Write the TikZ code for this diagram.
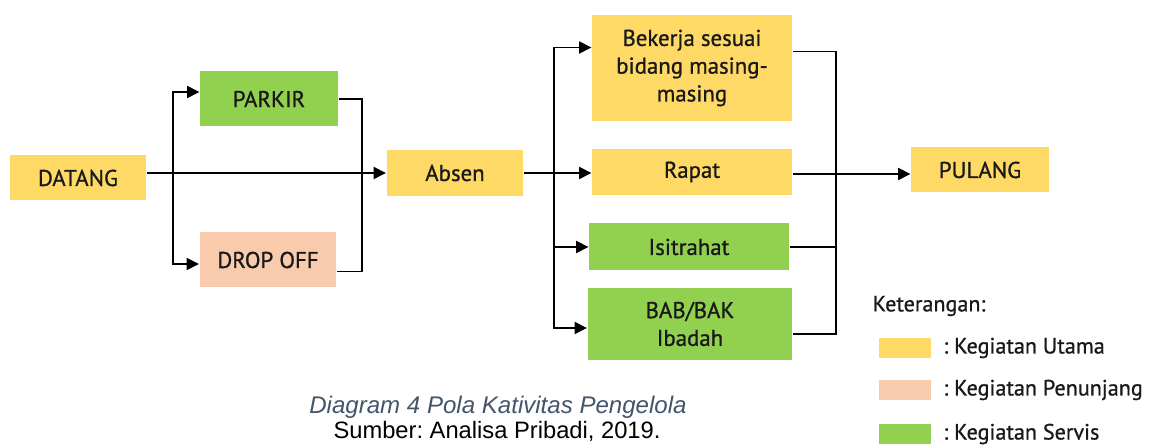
\documentclass[tikz,border=0pt]{standalone}
\usepackage{fontspec}
\setmainfont{PT Sans}
\newfontfamily\boxfont{PT Sans}[FakeBold=0.9]
\newfontfamily\capfont{Liberation Sans}
\usepackage{xcolor}
\usepackage{tikz}
\usetikzlibrary{arrows.meta, positioning}
\frenchspacing

\definecolor{kUtama}{HTML}{FFD966}
\definecolor{kPenunjang}{HTML}{F8CBAD}
\definecolor{kServis}{HTML}{92D050}
\definecolor{capgray}{HTML}{44546A}

\tikzset{
	box/.style={inner sep=0pt, align=center, text=black!90, font=\boxfont\fontsize{13}{15.8}\selectfont},
	utama/.style={box, fill=kUtama},
	penunjang/.style={box, fill=kPenunjang},
	servis/.style={box, fill=kServis},
	arr/.style={-{Triangle[length=7pt,width=7pt]}},
	lgtext/.style={inner sep=0pt, text=black!90, font=\boxfont\fontsize{12.6}{15}\selectfont},
}

\begin{document}
\begin{tikzpicture}[x=0.02cm, y=-0.02cm, line width=0.8pt]
	\useasboundingbox (0,0) rectangle (1154,448);
	% Boxes:
	\node[utama, minimum width=2.74cm, minimum height=0.9cm] (datang) at (78,178) {DATANG};
	\node[servis, minimum width=2.76cm, minimum height=1.1cm] (parkir) at (269,99) {PARKIR};
	\node[penunjang, minimum width=2.74cm, minimum height=1.1cm] (dropoff) at (268,260) {DROP OFF};
	\node[utama, minimum width=2.74cm, minimum height=0.92cm] (absen) at (455,173) {Absen};
	\node[utama, minimum width=4cm, minimum height=2.14cm] (bekerja) at (692,68) {Bekerja sesuai\\bidang masing-\\masing};
	\node[utama, minimum width=4cm, minimum height=0.92cm] (rapat) at (692,172) {Rapat};
	\node[servis, minimum width=4cm, minimum height=0.94cm] (isitrahat) at (689,247) {Isitrahat};
	\node[servis, minimum width=4.1cm, minimum height=1.44cm] (bab) at (690,324) {BAB/BAK\\Ibadah};
	\node[utama, minimum width=2.76cm, minimum height=0.9cm] (pulang) at (980,170) {PULANG};

	% Branch and join points:
	\coordinate (b1) at (173,174);
	\coordinate (j1) at (362,174);
	\coordinate (b2) at (554,174);
	\coordinate (j2) at (836,174);

	% Connectors, left part:
	\draw[arr] (datang.east |- absen.west) -- (absen.west);
	\draw[arr] (b1) |- ([yshift=0.14cm]parkir.west);
	\draw[arr] (b1) |- ([yshift=-0.08cm]dropoff.west);
	\draw (parkir.east) -| (j1);
	\draw ([yshift=-0.23cm]dropoff.east) -| (j1);

	% Connectors, right part:
	\draw[arr] (absen.east) -- (absen.east -| rapat.west);
	\draw[arr] (b2) |- ([yshift=0.41cm]bekerja.west);
	\draw[arr] (b2) |- (isitrahat.west);
	\draw[arr] (b2) |- ([yshift=-0.08cm]bab.west);
	\draw ([yshift=0.33cm]bekerja.east) -| (j2);
	\draw (isitrahat.east) -- (isitrahat.east -| j2);
	\draw ([yshift=-0.2cm]bab.east) -| (j2);
	\draw[arr] (rapat.east |- j2) -- (j2 -| pulang.west);

	% Legend:
	\node[lgtext, anchor=west] (ket) at (872,306) {Keterangan:};
	\node[fill=kUtama, minimum width=1.04cm, minimum height=0.4cm, inner sep=0pt] (lg1) at (905,348) {};
	\node[fill=kPenunjang, minimum width=1.04cm, minimum height=0.4cm, inner sep=0pt] (lg2) at (905,390) {};
	\node[fill=kServis, minimum width=1.04cm, minimum height=0.4cm, inner sep=0pt] (lg3) at (905,434) {};
	\node[lgtext, right=0.22cm of lg1] (lt1) {: Kegiatan Utama};
	\node[lgtext, right=0.22cm of lg2] (lt2) {: Kegiatan Penunjang};
	\node[lgtext, right=0.22cm of lg3] (lt3) {: Kegiatan Servis};

	% Caption:
	\node[inner sep=0pt, text=capgray, font=\capfont\itshape\fontsize{13.7}{15}\selectfont] (cap) at (498,407) {Diagram 4 Pola Kativitas Pengelola};
	\node[inner sep=0pt, font=\capfont\fontsize{13.5}{15}\selectfont] (src) at (497,431) {Sumber: Analisa Pribadi, 2019.};
\end{tikzpicture}
\end{document}
